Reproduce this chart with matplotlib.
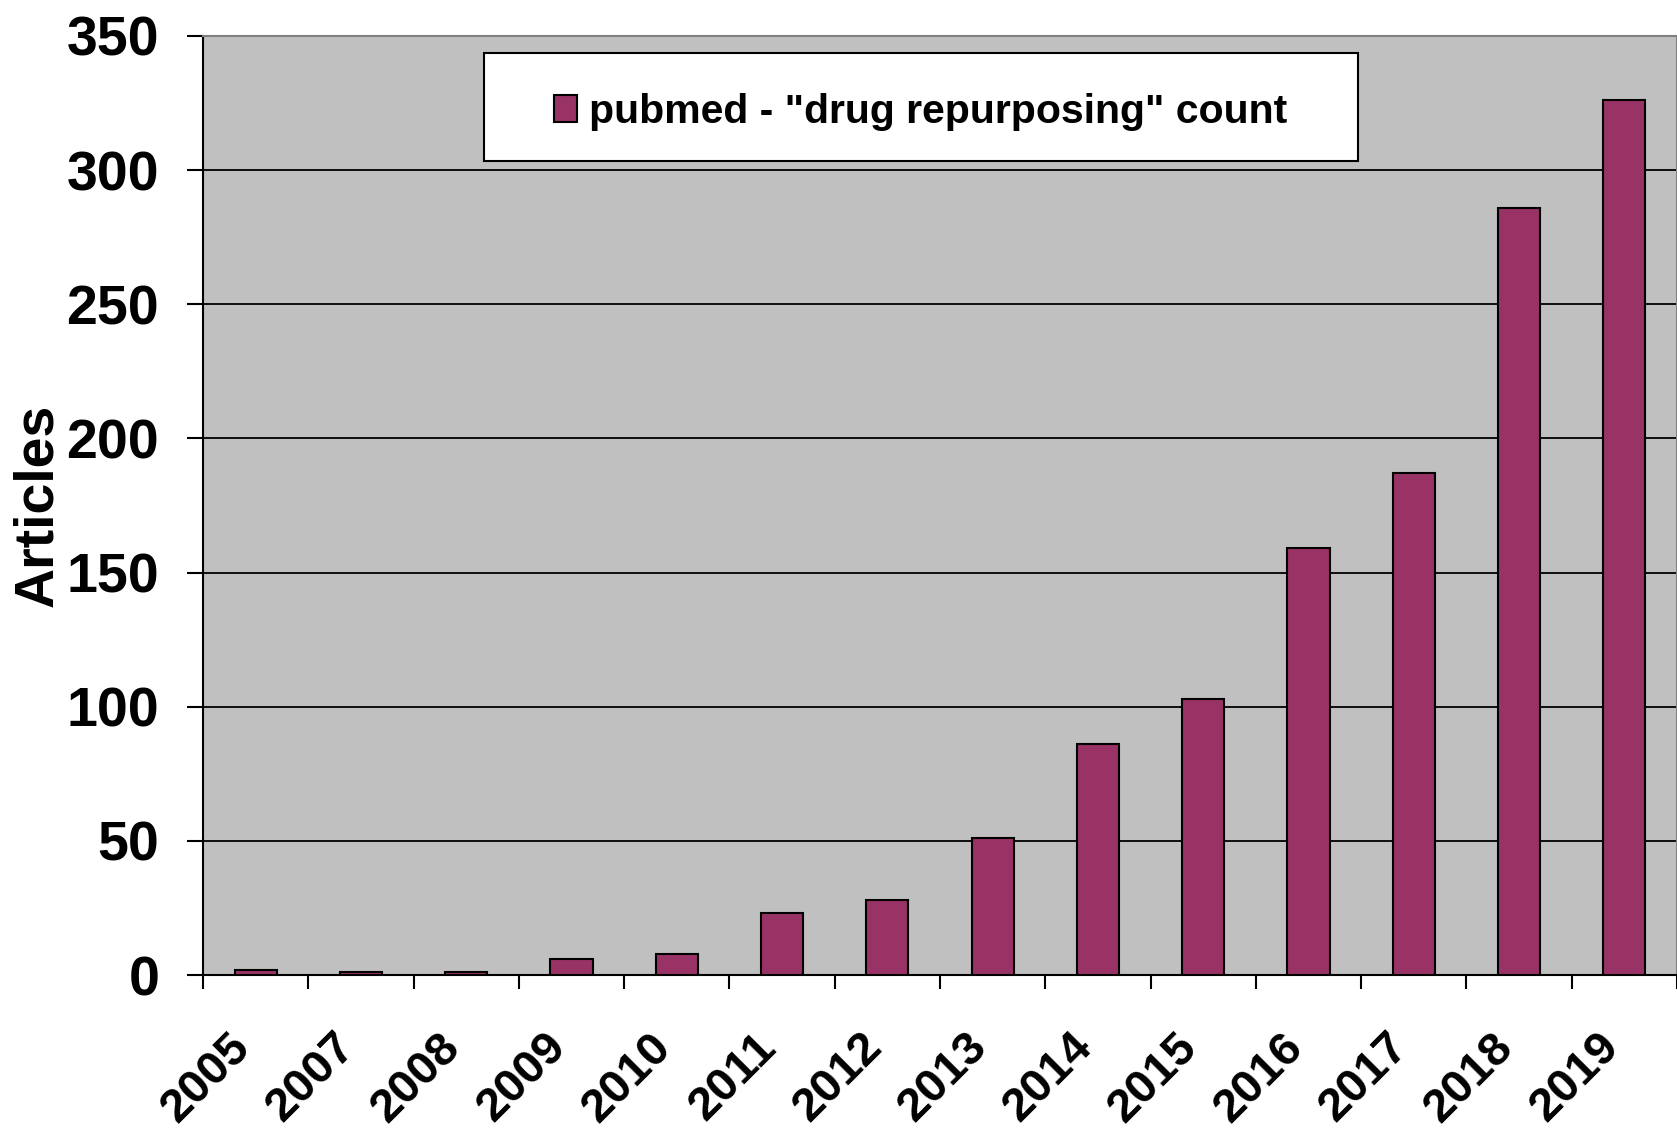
import numpy as np
import matplotlib.pyplot as plt
import matplotlib.transforms as mtransforms
from matplotlib.patches import Rectangle

years = ['2005', '2007', '2008', '2009', '2010', '2011', '2012',
         '2013', '2014', '2015', '2016', '2017', '2018', '2019']
counts = [2, 1, 1, 6, 8, 23, 28, 51, 86, 103, 159, 187, 286, 326]
legend_label = 'pubmed - "drug repurposing" count'

plt.rcParams['font.family'] = ['Liberation Sans', 'DejaVu Sans']

W, H = 1677, 1131
fig = plt.figure(figsize=(W / 100, H / 100), dpi=100)
ax = fig.add_axes([203 / W, 1 - 975 / H, (W - 203) / W, (975 - 36) / H])
ax.set_facecolor('#C0C0C0')

x = np.arange(len(years))
bars = ax.bar(x, counts, width=0.4, color='#993366', edgecolor='black',
              linewidth=1.5, zorder=3, label=legend_label)

ax.set_xlim(-0.5, len(years) - 0.5)
ax.set_ylim(0, 350)
ax.set_yticks(np.arange(0, 351, 50))
ax.yaxis.grid(True, color='black', linewidth=1.3, zorder=1)
ax.set_axisbelow(True)

# x ticks: marks on category boundaries, labels in the middle
ax.set_xticks(x)
ax.set_xticklabels(years, rotation=45, ha='right', rotation_mode='anchor',
                   fontsize=34, fontweight='bold')
ax.set_xticks(np.arange(-0.5, len(years)), minor=True)
ax.tick_params(axis='x', which='major', length=0, pad=36)
ax.tick_params(axis='x', which='minor', length=10, width=1.5, direction='out')
shift = mtransforms.ScaledTranslation(-28 / 100, 0, fig.dpi_scale_trans)
for lab in ax.get_xticklabels():
    lab.set_transform(lab.get_transform() + shift)
ax.tick_params(axis='y', length=11.5, width=1.5, direction='out', pad=20,
               labelsize=40)
for lab in ax.get_yticklabels():
    lab.set_fontweight('bold')

ax.set_ylabel('Articles', fontsize=40, fontweight='bold', labelpad=2)

for s in ['left', 'bottom']:
    ax.spines[s].set_color('black')
    ax.spines[s].set_linewidth(1.5)
for s in ['top', 'right']:
    ax.spines[s].set_color('#808080')
    ax.spines[s].set_linewidth(1.5)

# legend box
ax.add_patch(Rectangle((484 / W, 1 - 161 / H), (1358 - 484) / W, (161 - 53) / H,
                       transform=fig.transFigure, facecolor='white',
                       edgecolor='black', linewidth=1.5, zorder=5, clip_on=False))
leg = ax.legend(loc='center', bbox_to_anchor=((484 + 1358) / 2 / W, 1 - 112 / H),
                bbox_transform=fig.transFigure, frameon=False,
                prop={'size': 29.5, 'weight': 'bold'}, handlelength=0.55,
                handleheight=0.65, handletextpad=0.3)
leg.set_zorder(6)

fig.savefig('out.png', dpi=100)
